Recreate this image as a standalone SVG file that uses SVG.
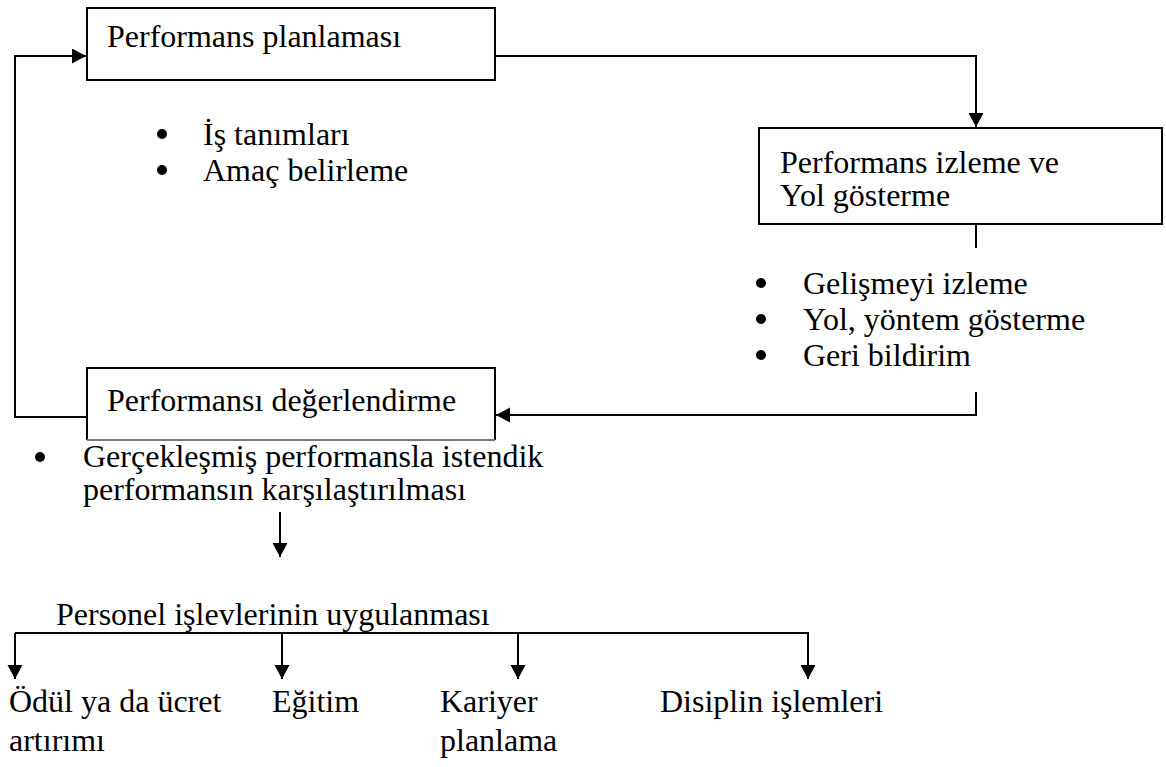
<svg xmlns="http://www.w3.org/2000/svg" width="1166" height="767" viewBox="0 0 1166 767">
  <style>
    .t { font-family: "Liberation Serif", "Times New Roman", serif; font-size: 32px; fill: #000; }
    .box { fill: #fff; stroke: #000; stroke-width: 2; }
    .ln { fill: none; stroke: #000; stroke-width: 2; }
    .dot { fill: #000; }
  </style>
  <defs>
    <marker id="arr" markerUnits="userSpaceOnUse" markerWidth="16" markerHeight="16" refX="14" refY="7.5" orient="auto">
      <path d="M0,0 L14,7.5 L0,15 z" fill="#000"/>
    </marker>
  </defs>
  <rect width="1166" height="767" fill="#fff"/>

  <g id="connectors">
    <path class="ln" d="M495,56 H976 V127" marker-end="url(#arr)"/>
    <path class="ln" d="M976,224 V248"/>
    <path class="ln" d="M976,392 V415 H496" marker-end="url(#arr)"/>
    <path class="ln" d="M87,417 H15 V56 H86" marker-end="url(#arr)"/>
    <path class="ln" d="M280,512 V557" marker-end="url(#arr)"/>
    <path class="ln" d="M15,633 H808 V679" marker-end="url(#arr)"/>
    <path class="ln" d="M15,633 V679" marker-end="url(#arr)"/>
    <path class="ln" d="M282,633 V679" marker-end="url(#arr)"/>
    <path class="ln" d="M518,633 V679" marker-end="url(#arr)"/>
  </g>

  <g id="planlama">
    <rect class="box" x="87" y="8" width="408" height="72"/>
    <text class="t" x="107" y="47">Performans planlaması</text>
  </g>
  <g id="planlama-items">
    <circle class="dot" cx="162" cy="134" r="5"/>
    <text class="t" x="203" y="145">İş tanımları</text>
    <circle class="dot" cx="162" cy="170" r="5"/>
    <text class="t" x="203" y="181">Amaç belirleme</text>
  </g>

  <g id="izleme">
    <rect class="box" x="759" y="128" width="403" height="96"/>
    <text class="t" x="780" y="173">Performans izleme ve</text>
    <text class="t" x="780" y="206">Yol gösterme</text>
  </g>
  <g id="izleme-items">
    <circle class="dot" cx="761" cy="283" r="5"/>
    <text class="t" x="803" y="294">Gelişmeyi izleme</text>
    <circle class="dot" cx="761" cy="319" r="5"/>
    <text class="t" x="803" y="330">Yol, yöntem gösterme</text>
    <circle class="dot" cx="761" cy="355" r="5"/>
    <text class="t" x="803" y="366">Geri bildirim</text>
  </g>

  <g id="degerlendirme">
    <path class="box" d="M87,440 V368 H495 V440"/>
    <line x1="87" y1="440" x2="495" y2="440" stroke="#777" stroke-width="2"/>
    <text class="t" x="107" y="411">Performansı değerlendirme</text>
  </g>
  <g id="degerlendirme-items">
    <circle class="dot" cx="40" cy="457" r="5"/>
    <text class="t" x="83" y="467">Gerçekleşmiş performansla istendik</text>
    <text class="t" x="83" y="500">performansın karşılaştırılması</text>
  </g>

  <g id="personel">
    <text class="t" x="56" y="625">Personel işlevlerinin uygulanması</text>
  </g>
  <g id="odul">
    <text class="t" x="9" y="712">Ödül ya da ücret</text>
    <text class="t" x="9" y="751">artırımı</text>
  </g>
  <g id="egitim">
    <text class="t" x="272" y="712">Eğitim</text>
  </g>
  <g id="kariyer">
    <text class="t" x="440" y="712">Kariyer</text>
    <text class="t" x="440" y="751">planlama</text>
  </g>
  <g id="disiplin">
    <text class="t" x="660" y="712">Disiplin işlemleri</text>
  </g>
</svg>
